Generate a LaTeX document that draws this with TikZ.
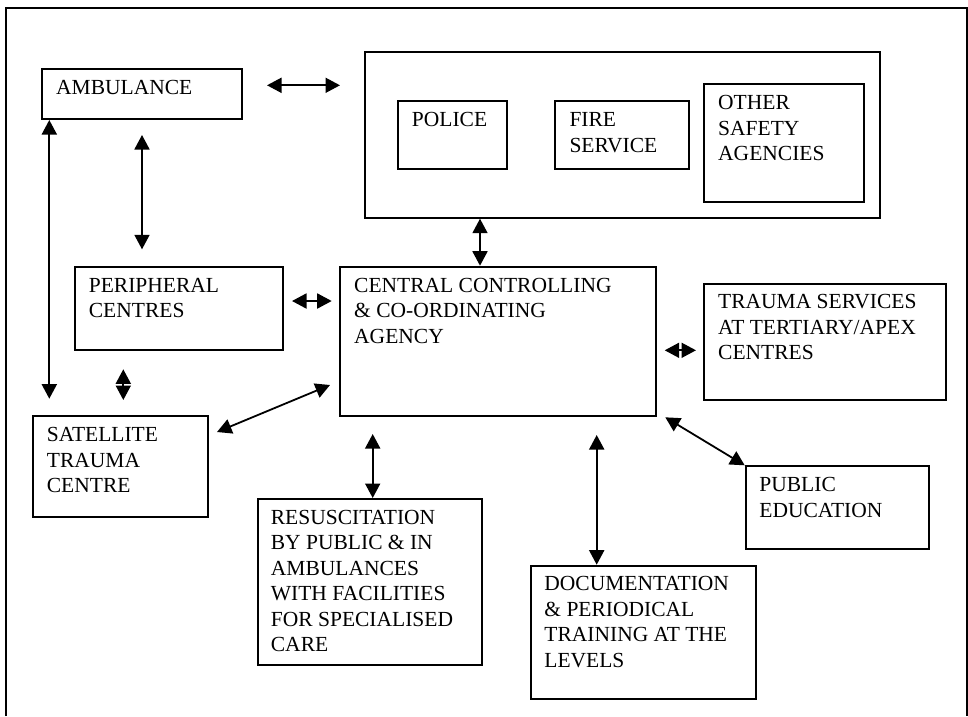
\documentclass[tikz,border=0pt]{standalone}
\usepackage{fontspec}
\setmainfont{Liberation Serif}
\usetikzlibrary{arrows.meta}

\begin{document}
\begin{tikzpicture}[
    x=1pt, y=-1pt,
    box/.style={draw, line width=2pt, rectangle, inner sep=0pt, anchor=north west},
    lbl/.style={anchor=north west, inner sep=0pt, align=left,
                font=\fontsize{21.5}{25.5}\selectfont},
    arr/.style={line width=1.8pt, {Triangle[length=14.5pt,width=15pt]}-{Triangle[length=14.5pt,width=15pt]}},
    frame/.style={line width=2pt}
  ]
  \useasboundingbox (0,0) rectangle (968,716);

  % open frame round the chart
  \draw[frame] (6,716) -- (6,8) -- (967,8) -- (967,716);

  % boxes
  \node[box, minimum width=515pt,   minimum height=166pt]   (big) at (364,50.7)   {};
  \node[box, minimum width=109.3pt, minimum height=67.7pt]  (pol) at (396.7,100)  {};
  \node[box, minimum width=134pt,   minimum height=67.7pt]  (fir) at (554.3,100)  {};
  \node[box, minimum width=159.7pt, minimum height=117.7pt] (oth) at (703,83)     {};
  \node[box, minimum width=200pt,   minimum height=50pt]    (amb) at (41,68)      {};
  \node[box, minimum width=208.6pt, minimum height=83.6pt]  (per) at (73.7,265.7) {};
  \node[box, minimum width=316pt,   minimum height=149.6pt] (cen) at (339,265.7)  {};
  \node[box, minimum width=242.3pt, minimum height=115.7pt] (tra) at (703,283.3)  {};
  \node[box, minimum width=175.6pt, minimum height=100.4pt] (sat) at (31.7,415.3) {};
  \node[box, minimum width=224.3pt, minimum height=166pt]   (res) at (256.7,498)  {};
  \node[box, minimum width=225pt,   minimum height=133.3pt] (doc) at (529.7,564.7){};
  \node[box, minimum width=183.3pt, minimum height=82.7pt]  (pub) at (744.7,465.3){};

  % box texts, set at the upper left of each box
  \node[lbl] (pol-t) at ([shift={(15pt,-8.6pt)}]pol.north west) {\strut POLICE};
  \node[lbl] (fir-t) at ([shift={(15pt,-8.6pt)}]fir.north west) {\strut FIRE\\SERVICE};
  \node[lbl] (oth-t) at ([shift={(15pt,-8.6pt)}]oth.north west) {\strut OTHER\\SAFETY\\AGENCIES};
  \node[lbl] (amb-t) at ([shift={(15pt,-8.6pt)}]amb.north west) {\strut AMBULANCE};
  \node[lbl] (per-t) at ([shift={(15pt,-8.6pt)}]per.north west) {\strut PERIPHERAL\\CENTRES};
  \node[lbl] (cen-t) at ([shift={(15pt,-8.6pt)}]cen.north west) {\strut CENTRAL CONTROLLING\\\& CO-ORDINATING\\AGENCY};
  \node[lbl] (tra-t) at ([shift={(15pt,-7.6pt)}]tra.north west) {\strut TRAUMA SERVICES\\AT TERTIARY/APEX\\CENTRES};
  \node[lbl] (sat-t) at ([shift={(15pt,-8.2pt)}]sat.north west) {\strut SATELLITE\\TRAUMA\\CENTRE};
  \node[lbl] (res-t) at ([shift={(14pt,-8pt)}]res.north west) {\strut RESUSCITATION\\BY PUBLIC \& IN\\AMBULANCES\\WITH FACILITIES\\FOR SPECIALISED\\CARE};
  \node[lbl] (doc-t) at ([shift={(14.5pt,-8pt)}]doc.north west) {\strut DOCUMENTATION\\\& PERIODICAL\\TRAINING AT THE\\LEVELS};
  \node[lbl] (pub-t) at ([shift={(14.5pt,-8.2pt)}]pub.north west) {\strut PUBLIC\\EDUCATION};

  % connectors
  \coordinate (c1) at ([yshift=8.7pt]amb.east);
  \draw[arr, shorten <=24pt, shorten >=24pt] (c1) -- (c1 -| big.west);

  \draw[arr, shorten <=15pt, shorten >=16.4pt] (amb.south) -- (amb.south |- per.north);

  \coordinate (c3) at ([xshift=8.3pt]amb.south west);
  \draw[arr, shorten >=16.6pt] (c3) -- (c3 |- sat.north);

  \coordinate (c4) at ([xshift=49.6pt]per.south west);
  \draw[arr, shorten <=18pt, shorten >=15.3pt] (c4) -- (c4 |- sat.north);

  \coordinate (c5) at ([yshift=7.5pt]per.east);
  \draw[arr, shorten <=7.7pt, shorten >=7.3pt] (c5) -- (c5 -| cen.west);

  \coordinate (c6) at ([xshift=-142.5pt]big.south);
  \draw[arr] (c6) -- (c6 |- cen.north);

  \coordinate (c7) at ([yshift=-8.8pt]cen.east);
  \draw[arr, shorten <=7.7pt, shorten >=7pt] (c7) -- (c7 -| tra.west);

  \coordinate (c8a) at ([shift={(-9pt,32.3pt)}]cen.south west);
  \coordinate (c8b) at ([shift={(7.7pt,-16.7pt)}]sat.north east);
  \draw[arr] (c8a) -- (c8b);

  \coordinate (c9) at ([xshift=33.7pt]cen.south west);
  \draw[arr, shorten <=16.7pt] (c9) -- (c9 |- res.north);

  \coordinate (c10) at ([xshift=257.7pt]cen.south west);
  \draw[arr, shorten <=17.7pt] (c10) -- (c10 |- doc.north);

  \draw[arr] ([xshift=8.3pt]cen.south east) -- (pub.north west);
\end{tikzpicture}
\end{document}
